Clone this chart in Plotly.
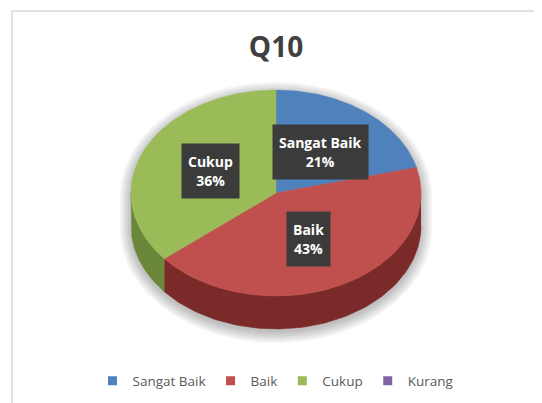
import numpy as np
import plotly.graph_objects as go

# ---- data ----
categories = ["Sangat Baik", "Baik", "Cukup", "Kurang"]
values = [21, 43, 36, 0]
colors = ["#4F81BD", "#C0504D", "#9BBB59", "#8064A2"]
side_colors = ["#34567F", "#7A2A28", "#6B873A", "#55426F"]
title_text = "Q10"

# ---- layout geometry (pixels of the screenshot) ----
W, H = 542, 403
OFF = 8  # page body margin
cx, cy, rx, ry, depth = 276, 193, 145, 103, 33
FONT = "Open Sans"


def pt(theta_deg, dy=0.0, r=1.0, rxx=None, ryy=None, cyy=None):
    t = np.radians(theta_deg)
    a = rx if rxx is None else rxx
    b = ry if ryy is None else ryy
    c = cy if cyy is None else cyy
    return cx + r * a * np.sin(t), c - r * b * np.cos(t) + dy


fig = go.Figure()

# soft shadow behind the pie
for k in range(1, 12, 2):
    th1 = np.linspace(-90, 90, 90)
    th2 = np.linspace(90, 270, 90)
    x1, y1 = pt(th1, 0, 1, rx + k, ry + k, cy + 3)
    x2, y2 = pt(th2, depth, 1, rx + k, ry + k, cy + 3)
    fig.add_trace(go.Scatter(
        x=np.concatenate([x1, x2]), y=np.concatenate([y1, y2]),
        mode="lines", fill="toself", line=dict(width=0),
        fillcolor="rgba(0,0,0,0.045)", hoverinfo="skip", showlegend=False))

total = sum(values)
cum = np.cumsum([0] + values) / total * 360.0

# sides (visible front half: 90..270 deg)
for i, v in enumerate(values):
    if v <= 0:
        continue
    a0, a1 = cum[i], cum[i + 1]
    s0, s1 = max(a0, 90), min(a1, 270)
    if s1 <= s0:
        continue
    th = np.linspace(s0, s1, 80)
    xt, yt = pt(th)
    xb, yb = pt(th[::-1], depth)
    fig.add_trace(go.Scatter(
        x=np.concatenate([xt, xb]), y=np.concatenate([yt, yb]),
        mode="lines", fill="toself", line=dict(width=0.5, color=side_colors[i]),
        fillcolor=side_colors[i], hoverinfo="skip", showlegend=False))

# top faces
for i, v in enumerate(values):
    if v <= 0:
        continue
    a0, a1 = cum[i], cum[i + 1]
    th = np.linspace(a0, a1, max(int(a1 - a0) * 2, 10))
    xa, ya = pt(th)
    fig.add_trace(go.Scatter(
        x=np.concatenate([[cx], xa, [cx]]), y=np.concatenate([[cy], ya, [cy]]),
        mode="lines", fill="toself", line=dict(width=0.5, color=colors[i]),
        fillcolor=colors[i], hoverinfo="skip", showlegend=False))

# legend entries
for c, col in zip(categories, colors):
    fig.add_trace(go.Scatter(
        x=[None], y=[None], mode="markers", name=c,
        marker=dict(symbol="square", size=9, color=col)))

# data labels
annotations = []
for i, v in enumerate(values):
    if v <= 0:
        continue
    mid = (cum[i] + cum[i + 1]) / 2
    lx, ly = pt(mid, 0, 0.5)
    pct = round(100 * v / total)
    annotations.append(dict(
        x=lx, y=ly, xref="x", yref="y", showarrow=False,
        text=f"<b>{categories[i]}</b><br><b>{pct}%</b>",
        font=dict(family=FONT, size=14, color="white"),
        bgcolor="#3B3B3B", borderpad=6, height=42, valign="middle", align="center"))

fig.update_layout(
    width=W, height=H,
    margin=dict(l=0, r=0, t=0, b=0),
    paper_bgcolor="white", plot_bgcolor="white",
    xaxis=dict(range=[OFF, W + OFF], visible=False, fixedrange=True),
    yaxis=dict(range=[H + OFF, OFF], visible=False, fixedrange=True),
    title=dict(text=f"<b>{title_text}</b>", x=(276 - OFF) / W, y=1 - (47 - OFF) / H,
               xanchor="center", yanchor="middle",
               font=dict(family=FONT, size=28, color="#404040")),
    legend=dict(orientation="h", x=(276 - OFF) / W, xanchor="center",
                y=1 - (381 - OFF) / H, yanchor="middle",
                font=dict(family=FONT, size=13.5, color="#595959"),
                itemwidth=30, bgcolor="rgba(0,0,0,0)"),
    annotations=annotations,
    shapes=[dict(type="rect", xref="x", yref="y", x0=12, y0=11, x1=W + 20, y1=H + 20,
                 line=dict(color="#D9D9D9", width=1.5), layer="below")],
    showlegend=True,
)

fig.write_html("out.html")
